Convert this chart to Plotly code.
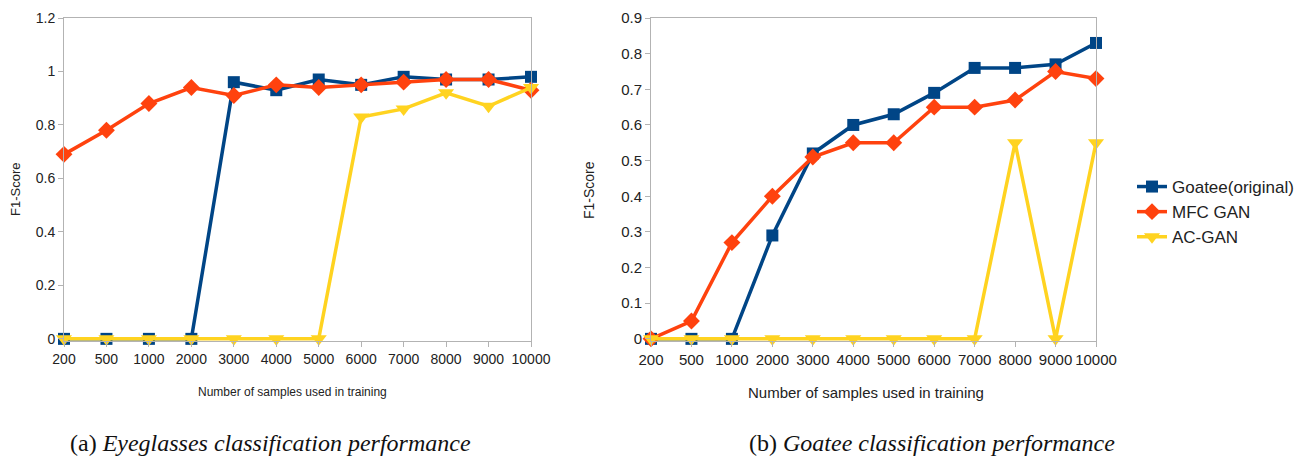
import plotly.graph_objects as go

categories = ["200", "500", "1000", "2000", "3000", "4000", "5000", "6000", "7000", "8000", "9000", "10000"]

# (a) Eyeglasses
eye_original = [0, 0, 0, 0, 0.96, 0.93, 0.97, 0.95, 0.98, 0.97, 0.97, 0.98]
eye_mfc = [0.69, 0.78, 0.88, 0.94, 0.91, 0.95, 0.94, 0.95, 0.96, 0.97, 0.97, 0.93]
eye_ac = [0, 0, 0, 0, 0, 0, 0, 0.83, 0.86, 0.92, 0.87, 0.94]

# (b) Goatee
goat_original = [0, 0, 0, 0.29, 0.52, 0.60, 0.63, 0.69, 0.76, 0.76, 0.77, 0.83]
goat_mfc = [0, 0.05, 0.27, 0.40, 0.51, 0.55, 0.55, 0.65, 0.65, 0.67, 0.75, 0.73]
goat_ac = [0, 0, 0, 0, 0, 0, 0, 0, 0, 0.55, 0, 0.55]

series_names = ["Goatee(original)", "MFC GAN", "AC-GAN"]
y_ticks_a = [0, 0.2, 0.4, 0.6, 0.8, 1, 1.2]
y_ticks_b = [0, 0.1, 0.2, 0.3, 0.4, 0.5, 0.6, 0.7, 0.8, 0.9]

BLUE, RED, YELLOW = "#004586", "#ff420e", "#ffd320"
styles = [
    dict(color=BLUE, symbol="square", size=12),
    dict(color=RED, symbol="diamond", size=13),
    dict(color=YELLOW, symbol="triangle-down", size=14),
]

W, H = 1306, 458
fig = go.Figure()

def add(vals, i, xa, ya, show):
    st = styles[i]
    fig.add_trace(go.Scatter(
        x=categories, y=vals, mode="lines+markers", name=series_names[i],
        line=dict(color=st["color"], width=3.5),
        marker=dict(color=st["color"], symbol=st["symbol"], size=st["size"], line=dict(width=0)),
        xaxis=xa, yaxis=ya, showlegend=show, cliponaxis=False,
    ))

for i, v in enumerate([eye_original, eye_mfc, eye_ac]):
    add(v, i, "x", "y", False)
for i, v in enumerate([goat_original, goat_mfc, goat_ac]):
    add(v, i, "x2", "y2", True)

ytop, ybot = 18, 341
ydom = [1 - ybot / H, 1 - ytop / H]
axcol = "#b3b3b3"
narrow = "Liberation Sans Narrow, Liberation Sans, Arial, sans-serif"
reg = "Liberation Sans, Arial, sans-serif"
serif = "Liberation Serif, Times New Roman, serif"

common_x = dict(type="category", range=[0, 11], showgrid=False, showline=True, mirror=True,
                linecolor=axcol, linewidth=1, ticks="outside", ticklen=5, tickcolor=axcol,
                zeroline=False, tickangle=0, automargin=False)
common_y = dict(showgrid=False, showline=True, mirror=True, linecolor=axcol, linewidth=1,
                ticks="outside", ticklen=5, tickcolor=axcol, zeroline=False, automargin=False)

fig.update_layout(
    width=W, height=H, margin=dict(l=0, r=0, t=0, b=0, autoexpand=False),
    paper_bgcolor="white", plot_bgcolor="white",
    xaxis=dict(domain=[64 / W, 531 / W], anchor="y", **common_x,
               tickfont=dict(family=narrow, size=14, color="#222")),
    yaxis=dict(domain=ydom, anchor="x", range=[-0.008, 1.2], tickvals=y_ticks_a,
               ticktext=[f"{t:g}" for t in y_ticks_a], **common_y,
               tickfont=dict(family=narrow, size=14, color="#222")),
    xaxis2=dict(domain=[651 / W, 1096 / W], anchor="y2", **common_x,
                tickfont=dict(family=reg, size=15, color="#222")),
    yaxis2=dict(domain=ydom, anchor="x2", range=[-0.006, 0.9], tickvals=y_ticks_b,
                ticktext=[f"{t:g}" for t in y_ticks_b], **common_y,
                tickfont=dict(family=reg, size=15, color="#222")),
    legend=dict(x=1132 / W, y=1 - 212 / H, xanchor="left", yanchor="middle",
                font=dict(family=reg, size=17, color="#222"), bgcolor="rgba(0,0,0,0)",
                itemwidth=30, tracegroupgap=0),
)

ann = [
    dict(text="Number of samples used in training", x=292 / W, y=1 - 392 / H,
         font=dict(family=narrow, size=12, color="#222")),
    dict(text="F1-Score", x=16 / W, y=1 - 190 / H, textangle=-90,
         font=dict(family=reg, size=13, color="#222")),
    dict(text="Number of samples used in training", x=866 / W, y=1 - 392 / H,
         font=dict(family=reg, size=15, color="#222")),
    dict(text="F1-Score", x=589 / W, y=1 - 190 / H, textangle=-90,
         font=dict(family=reg, size=14, color="#222")),
    dict(text="(a) <i>Eyeglasses classification performance</i>", x=270 / W, y=1 - 443 / H,
         font=dict(family=serif, size=24, color="#111")),
    dict(text="(b) <i>Goatee classification performance</i>", x=932 / W, y=1 - 443 / H,
         font=dict(family=serif, size=24, color="#111")),
]
for a in ann:
    fig.add_annotation(xref="paper", yref="paper", showarrow=False, xanchor="center",
                       yanchor="middle", **a)

fig.write_html("out.html", config={"displayModeBar": False},
               post_script="document.body.style.margin='0';document.body.style.overflow='hidden';")
